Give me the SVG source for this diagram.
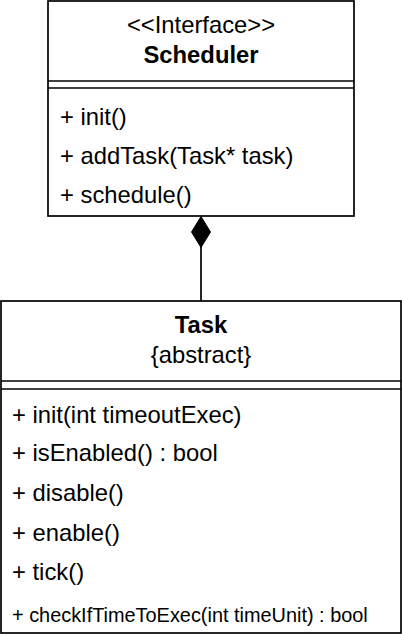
<svg xmlns="http://www.w3.org/2000/svg" width="402" height="634" viewBox="0 0 402 634">
<style>
.box{fill:#fff;stroke:#000;stroke-width:1.7}
.sep{stroke:#000;stroke-width:1.7;fill:none}
text{font-family:"Liberation Sans",Arial,Helvetica,sans-serif;fill:#000}
.t{font-size:23.8px}
.c{text-anchor:middle}
.b{font-weight:bold}
.s{font-size:19.9px}
.conn{stroke:#000;stroke-width:1.7;fill:none}
</style>
<g id="connectors">
<line class="conn" x1="201" y1="246" x2="201" y2="301"/>
<polygon points="201,216.5 210.5,232 201,247.5 191.5,232" fill="#000" stroke="#000" stroke-width="1"/>
</g>
<g id="scheduler">
<rect class="box" x="48" y="1" width="306" height="215"/>
<line class="sep" x1="48" y1="81" x2="354" y2="81"/>
<line class="sep" x1="48" y1="88" x2="354" y2="88"/>
<text class="t c" x="201" y="33">&lt;&lt;Interface&gt;&gt;</text>
<text class="t c b" x="201" y="63">Scheduler</text>
<text class="t" x="60" y="125">+ init()</text>
<text class="t" x="60" y="164">+ addTask(Task* task)</text>
<text class="t" x="60" y="203">+ schedule()</text>
</g>
<g id="task">
<rect class="box" x="1" y="301" width="400" height="332"/>
<line class="sep" x1="1" y1="381" x2="401" y2="381"/>
<line class="sep" x1="1" y1="389" x2="401" y2="389"/>
<text class="t c b" x="201" y="333">Task</text>
<text class="t c" x="201" y="363">{abstract}</text>
<text class="t" x="12" y="423">+ init(int timeoutExec)</text>
<text class="t" x="12" y="461">+ isEnabled() : bool</text>
<text class="t" x="12" y="501">+ disable()</text>
<text class="t" x="12" y="541">+ enable()</text>
<text class="t" x="12" y="580">+ tick()</text>
<text class="s" x="12" y="622">+ checkIfTimeToExec(int timeUnit) : bool</text>
</g>
</svg>
